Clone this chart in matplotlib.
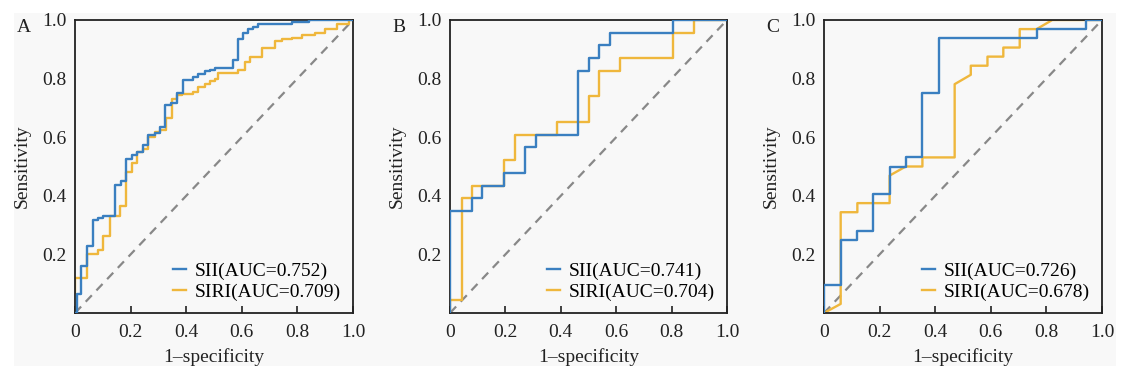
import matplotlib
matplotlib.use("Agg")
import matplotlib.pyplot as plt
from matplotlib.patches import Rectangle

plt.rcParams['font.family'] = ['Liberation Serif', 'DejaVu Serif']

# colores de las curvas
azul = '#3a7fc0'
amarillo = '#efb73c'

# Panel A (curvas en escalera, puntos de corte)
fpr_a_sii = [0, 0.006, 0.022, 0.042, 0.064, 0.084, 0.102, 0.144, 0.166, 0.184,
             0.204, 0.224, 0.244, 0.264, 0.286, 0.306, 0.324, 0.346, 0.366, 0.387,
             0.426, 0.444, 0.468, 0.486, 0.504, 0.570, 0.588, 0.606, 0.624, 0.642,
             0.660, 0.678, 0.780, 0.840, 1.0]
tpr_a_sii = [0, 0.064, 0.160, 0.230, 0.319, 0.325, 0.332, 0.436, 0.450, 0.525,
             0.539, 0.550, 0.573, 0.607, 0.613, 0.635, 0.709, 0.717, 0.752, 0.794,
             0.806, 0.817, 0.825, 0.831, 0.836, 0.863, 0.936, 0.957, 0.968, 0.976,
             0.985, 0.988, 0.993, 1.0, 1.0]
fpr_a_siri = [0, 0, 0.042, 0.084, 0.102, 0.126, 0.162, 0.184, 0.204, 0.224, 0.244,
              0.264, 0.286, 0.306, 0.327, 0.348, 0.366, 0.384, 0.426, 0.444, 0.468,
              0.486, 0.504, 0.516, 0.588, 0.612, 0.630, 0.672, 0.720, 0.744, 0.780,
              0.816, 0.864, 0.900, 0.942, 0.984, 1.0]
tpr_a_siri = [0, 0.120, 0.200, 0.215, 0.262, 0.332, 0.366, 0.480, 0.512, 0.550, 0.561,
              0.599, 0.618, 0.624, 0.664, 0.730, 0.745, 0.749, 0.755, 0.772, 0.780,
              0.791, 0.798, 0.819, 0.828, 0.857, 0.874, 0.905, 0.927, 0.934, 0.939,
              0.948, 0.956, 0.968, 0.988, 1.0, 1.0]

# Panel B
fpr_b_sii = [0, 0, 0.079, 0.117, 0.195, 0.271, 0.309, 0.461, 0.501, 0.539, 0.578, 0.806, 1.0]
tpr_b_sii = [0, 0.348, 0.391, 0.435, 0.478, 0.565, 0.609, 0.826, 0.870, 0.913, 0.957, 1.0, 1.0]
fpr_b_siri = [0, 0, 0.042, 0.079, 0.195, 0.235, 0.387, 0.501, 0.539, 0.614, 0.806, 0.881, 1.0]
tpr_b_siri = [0, 0.043, 0.391, 0.435, 0.522, 0.609, 0.652, 0.739, 0.826, 0.870, 0.957, 1.0, 1.0]

# Panel C (SII en escalera, SIRI con vertices porque tiene tramos diagonales)
fpr_c_sii = [0, 0, 0.060, 0.120, 0.177, 0.236, 0.294, 0.354, 0.414, 0.765, 0.941, 1.0]
tpr_c_sii = [0, 0.094, 0.250, 0.281, 0.406, 0.500, 0.531, 0.750, 0.938, 0.969, 1.0, 1.0]
fpr_c_siri = [0, 0.060, 0.060, 0.120, 0.120, 0.236, 0.236, 0.294, 0.354, 0.354, 0.470, 0.470,
              0.528, 0.528, 0.588, 0.588, 0.645, 0.645, 0.704, 0.704, 0.765, 0.821, 1.0]
tpr_c_siri = [0, 0.031, 0.344, 0.344, 0.375, 0.375, 0.469, 0.500, 0.500, 0.531, 0.531, 0.781,
              0.813, 0.844, 0.844, 0.875, 0.875, 0.906, 0.906, 0.969, 0.969, 1.0, 1.0]

letras = ['A', 'B', 'C']
auc_sii = ['0.752', '0.741', '0.726']
auc_siri = ['0.709', '0.704', '0.678']
xticks = [0, 0.2, 0.4, 0.6, 0.8, 1.0]
xtick_labels = ['0', '0.2', '0.4', '0.6', '0.8', '1.0']
yticks = [0.2, 0.4, 0.6, 0.8, 1.0]
ytick_labels = ['0.2', '0.4', '0.6', '0.8', '1.0']

W, H = 1143, 373
fig = plt.figure(figsize=(W / 100, H / 100), dpi=100, facecolor='white')
# fondo gris claro
fondo = Rectangle((14 / W, 1 - 366 / H), (1116 - 14) / W, (366 - 13) / H,
                  transform=fig.transFigure, facecolor='#f8f8f8',
                  edgecolor='none', zorder=-10)
fig.add_artist(fondo)

# posiciones de los ejes en pixeles (izq, der)
cajas = [(75, 353), (450, 727), (824, 1102)]
top, bottom = 20, 313

datos = [
    (fpr_a_sii, tpr_a_sii, fpr_a_siri, tpr_a_siri),
    (fpr_b_sii, tpr_b_sii, fpr_b_siri, tpr_b_siri),
    (fpr_c_sii, tpr_c_sii, fpr_c_siri, tpr_c_siri),
]

fs = 14
for i, (x0, x1) in enumerate(cajas):
    ax = fig.add_axes([x0 / W, 1 - bottom / H, (x1 - x0) / W, (bottom - top) / H])
    ax.set_facecolor('none')
    f1, t1, f2, t2 = datos[i]
    ax.plot([0, 1], [0, 1], linestyle=(0, (4, 3)), color='#888888', lw=1.6, zorder=1)
    ax.step(f1, t1, where='post', color=azul, lw=1.7, label='SII(AUC=' + auc_sii[i] + ')', zorder=3)
    if i == 2:
        ax.plot(f2, t2, color=amarillo, lw=1.7, label='SIRI(AUC=' + auc_siri[i] + ')', zorder=2)
    else:
        ax.step(f2, t2, where='post', color=amarillo, lw=1.7, label='SIRI(AUC=' + auc_siri[i] + ')', zorder=2)
    ax.set_xlim(0, 1)
    ax.set_ylim(0, 1)
    ax.set_xticks(xticks)
    ax.set_xticklabels(xtick_labels, fontsize=fs)
    ax.set_yticks(yticks)
    ax.set_yticklabels(ytick_labels, fontsize=fs)
    ax.tick_params(axis='x', direction='in', length=5, width=1.2, pad=8, colors='#222222')
    ax.tick_params(axis='y', length=0, pad=6, colors='#222222')
    for s in ax.spines.values():
        s.set_linewidth(1.3)
        s.set_color('#222222')
    ax.set_xlabel('1\u2013specificity', fontsize=fs, labelpad=5, color='#222222')
    ax.set_ylabel('Sensitivity', fontsize=fs, labelpad=8, color='#222222')
    ax.legend(loc='lower right', frameon=False, fontsize=fs, handlelength=0.7,
              handletextpad=0.45, borderaxespad=0.2, labelspacing=0.2)
    ax.text(-0.185, 0.973, letras[i], transform=ax.transAxes, fontsize=fs,
            ha='center', va='center', color='#222222')

fig.savefig('out.png', dpi=100, facecolor='white')
